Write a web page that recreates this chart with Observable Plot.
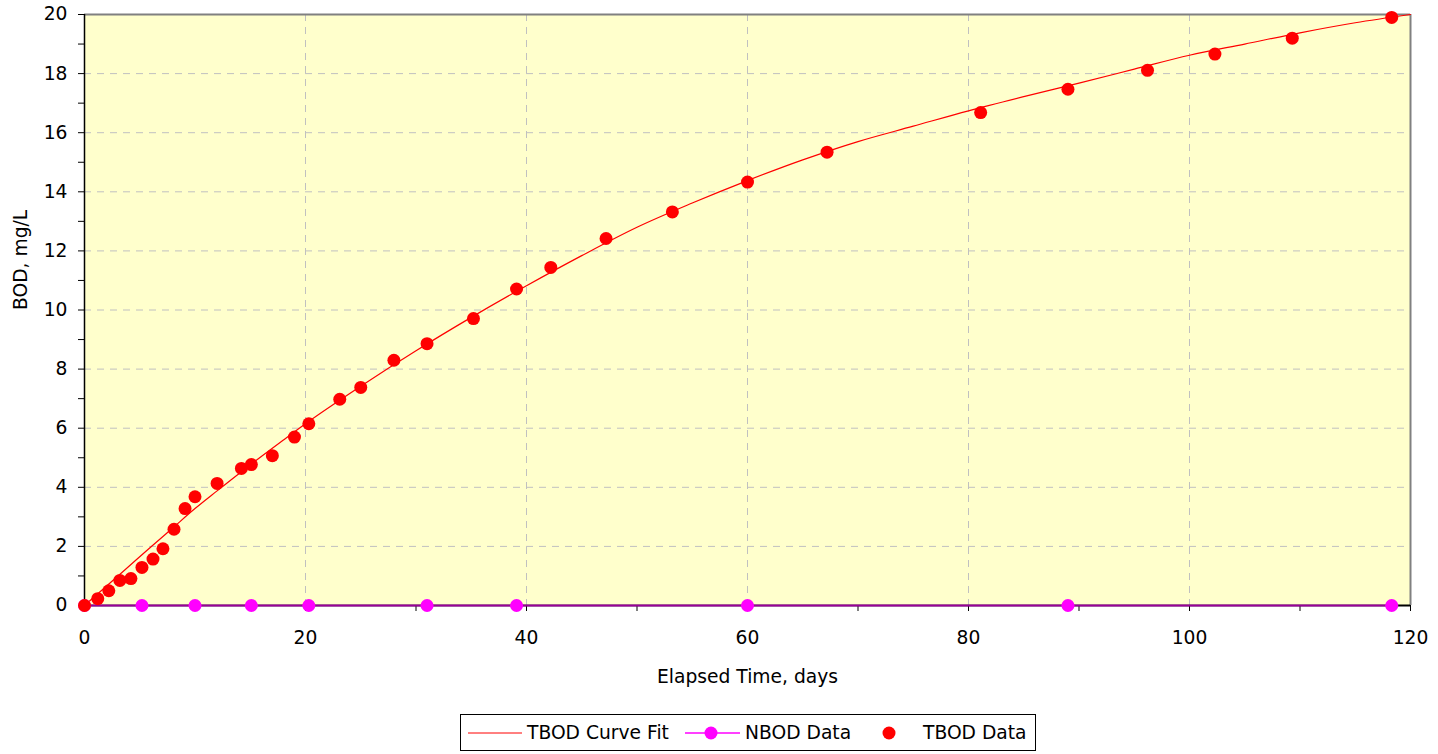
<!DOCTYPE html>
<html>
<head>
<meta charset="utf-8">
<script src="https://cdn.jsdelivr.net/npm/d3@7"></script>
<script src="https://cdn.jsdelivr.net/npm/@observablehq/plot@0.6"></script>
<style>
  html, body { margin: 0; padding: 0; background: #fff; }
  body { font-family: "DejaVu Sans", Verdana, sans-serif; width: 1438px; height: 754px; position: relative; overflow: hidden; }
  #chart { position: absolute; left: 0; top: 0; }
  #legend { position: absolute; left: 460px; top: 714px; width: 574px; height: 35px; border: 1px solid #000; background: #fff; font-size: 18.7px; color: #000; }
  #legend .it { position: absolute; top: 0; height: 35px; line-height: 35px; white-space: nowrap; }
  #legend svg { position: absolute; top: 0; }
</style>
</head>
<body>
<div id="chart"></div>
<div id="legend"></div>
<script>
// ---- data ----
const tbodDays = [0, 1.2, 2.2, 3.2, 4.2, 5.2, 6.2, 7.1, 8.1, 9.1, 10.0, 12.0, 14.2, 15.1, 17.0, 19.0, 20.3, 23.1, 25.0, 28.0, 31.0, 35.2, 39.1, 42.2, 47.2, 53.2, 60.0, 67.2, 81.1, 89.0, 96.2, 102.3, 109.3, 118.3];
const tbodBOD  = [0, 0.23, 0.5, 0.85, 0.91, 1.29, 1.57, 1.92, 2.58, 3.28, 3.68, 4.13, 4.64, 4.77, 5.07, 5.7, 6.15, 6.98, 7.38, 8.3, 8.86, 9.71, 10.71, 11.44, 12.42, 13.32, 14.33, 15.34, 16.68, 17.47, 18.11, 18.66, 19.2, 19.9];

const nbodDays = [0, 5.2, 10.0, 15.1, 20.3, 31.0, 39.1, 60.0, 89.0, 118.3];
const nbodBOD  = [0, 0, 0, 0, 0, 0, 0, 0, 0, 0];

const fitDays = [0, 2, 4, 6, 8, 10, 12, 14, 16, 18, 20, 25, 30, 35, 40, 45, 50, 55, 60, 65, 70, 75, 80, 85, 90, 95, 100, 105, 110, 115, 120];
const fitBOD  = [0, 0.66, 1.32, 1.98, 2.63, 3.28, 3.88, 4.47, 5.04, 5.6, 6.15, 7.42, 8.62, 9.75, 10.82, 11.84, 12.8, 13.62, 14.38, 15.08, 15.7, 16.22, 16.74, 17.22, 17.68, 18.15, 18.62, 19.0, 19.38, 19.72, 20.0];

const xTicks = [0, 20, 40, 60, 80, 100, 120];
const xMinorTicks = [10, 30, 50, 70, 90, 110];
const xGrid = [20, 40, 60, 80, 100];
const yTicks = [0, 2, 4, 6, 8, 10, 12, 14, 16, 18, 20];
const yMinorTicks = [1, 3, 5, 7, 9, 11, 13, 15, 17, 19];
const yGrid = [2, 4, 6, 8, 10, 12, 14, 16, 18];

const xTitle = "Elapsed Time, days";
const yTitle = "BOD, mg/L";
const legendLabels = ["TBOD Curve Fit", "NBOD Data", "TBOD Data"];

// ---- tables built from the arrays ----
const tbod = tbodDays.map((d, i) => ({day: d, bod: tbodBOD[i]}));
const nbod = nbodDays.map((d, i) => ({day: d, bod: nbodBOD[i]}));
const fit = fitDays.map((d, i) => ({day: d, bod: fitBOD[i]}));

const chart = Plot.plot({
  width: 1438,
  height: 700,
  marginLeft: 84,
  marginRight: 28,
  marginTop: 14,
  marginBottom: 95,
  style: {fontFamily: '"DejaVu Sans", Verdana, sans-serif', fontSize: "18.7px", color: "#000", background: "transparent", overflow: "visible"},
  x: {domain: [0, 120]},
  y: {domain: [0, 20]},
  marks: [
    Plot.frame({fill: "#FFFFCC", stroke: null}),
    Plot.ruleX(xGrid, {stroke: "#c0c0c0", strokeWidth: 1, strokeDasharray: "7,6"}),
    Plot.ruleY(yGrid, {stroke: "#c0c0c0", strokeWidth: 1, strokeDasharray: "7,6"}),
    Plot.ruleY([20], {stroke: "#808080", strokeWidth: 2}),
    Plot.ruleX([120], {stroke: "#808080", strokeWidth: 2}),
    Plot.ruleX([0], {stroke: "#000", strokeWidth: 1.5}),
    Plot.ruleY([0], {stroke: "#000", strokeWidth: 2}),
    Plot.axisX(xTicks, {tickSize: 6, tickPadding: 19, label: null, stroke: "#000"}),
    Plot.axisX(xMinorTicks, {tickSize: 6, tickFormat: () => "", label: null, stroke: "#000"}),
    Plot.axisY(yTicks, {tickSize: 6, tickPadding: 11, label: null, stroke: "#000"}),
    Plot.axisY(yMinorTicks, {tickSize: 6, tickFormat: () => "", label: null, stroke: "#000"}),
    Plot.line(fit, {x: "day", y: "bod", stroke: "#FF0000", strokeWidth: 1.2, curve: "monotone-x"}),
    Plot.line(nbod, {x: "day", y: "bod", stroke: "#FF00FF", strokeWidth: 2, strokeOpacity: 0.6}),
    Plot.dot(nbod, {x: "day", y: "bod", r: 6.5, fill: "#FF00FF", stroke: null}),
    Plot.dot(tbod, {x: "day", y: "bod", r: 6.5, fill: "#FF0000", stroke: null}),
    Plot.text([xTitle], {frameAnchor: "bottom", dy: 72, lineAnchor: "middle", fontSize: 18.7, fill: "#000"}),
    Plot.text([yTitle], {frameAnchor: "left", dx: -63, rotate: -90, lineAnchor: "middle", fontSize: 18.7, fill: "#000"})
  ]
});
document.getElementById("chart").appendChild(chart);

// ---- legend (below the chart) ----
const lg = document.getElementById("legend");
const ns = "http://www.w3.org/2000/svg";
function sw(left, width, draw) {
  const s = document.createElementNS(ns, "svg");
  s.setAttribute("width", width); s.setAttribute("height", 35);
  s.style.left = left + "px";
  s.innerHTML = draw;
  lg.appendChild(s);
}
function label(left, txt) {
  const d = document.createElement("div");
  d.className = "it"; d.style.left = left + "px"; d.textContent = txt;
  lg.appendChild(d);
}
sw(7, 55, '<line x1="0" y1="18" x2="54" y2="18" stroke="#FF0000" stroke-width="1"/>');
label(66, legendLabels[0]);
sw(224, 56, '<line x1="0" y1="18" x2="55" y2="18" stroke="#FF00FF" stroke-width="1.5"/><circle cx="26" cy="18" r="6.5" fill="#FF00FF"/>');
label(284, legendLabels[1]);
sw(418, 20, '<circle cx="10" cy="18" r="6.5" fill="#FF0000"/>');
label(462, legendLabels[2]);
</script>
</body>
</html>
